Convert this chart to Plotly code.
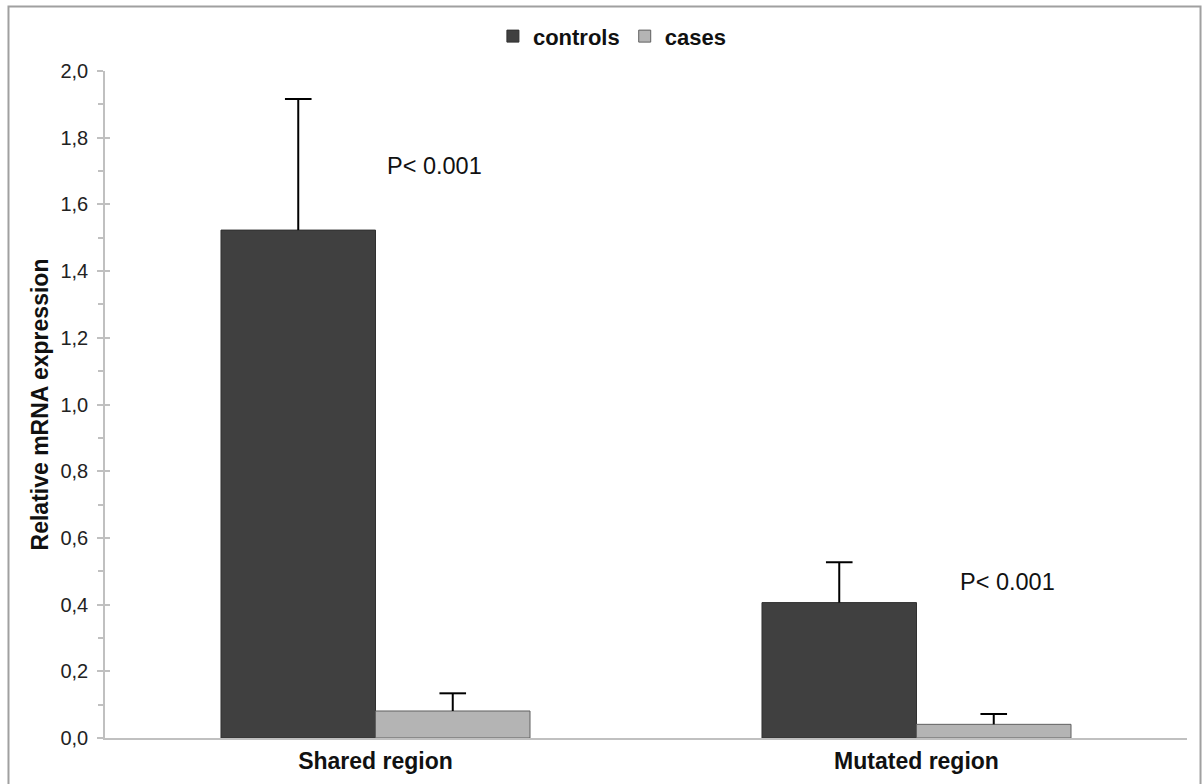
import plotly.graph_objects as go

categories = ["Shared region", "Mutated region"]
controls = [1.523, 0.406]
controls_err = [0.393, 0.121]
cases = [0.081, 0.041]
cases_err = [0.053, 0.031]
p_labels = ["P< 0.001", "P< 0.001"]
p_x = [0.023, 1.083]
p_y = [1.715, 0.469]

FONT = "Liberation Sans, Arial, sans-serif"
BAR_W = 0.2856
idx = list(range(len(categories)))
x_ctrl = [i - BAR_W / 2 for i in idx]
x_case = [i + BAR_W / 2 for i in idx]

fig = go.Figure()
for name, xs, ys, errs, fill, edge in [
    ("controls", x_ctrl, controls, controls_err, "#404040", "#303030"),
    ("cases", x_case, cases, cases_err, "#b4b4b4", "#606060"),
]:
    fig.add_trace(go.Bar(
        name=name, x=xs, y=ys, width=BAR_W,
        marker=dict(color=fill, line=dict(color=edge, width=1)),
        error_y=dict(type="data", array=errs, arrayminus=[0] * len(errs), symmetric=False,
                     color="black", thickness=2, width=0),
    ))
    fig.add_trace(go.Scatter(
        x=xs, y=[v + e for v, e in zip(ys, errs)], mode="markers",
        marker=dict(symbol="line-ew", size=19, line=dict(color="black", width=2)),
        showlegend=False, hoverinfo="skip",
    ))

# overlay axis for inside part of major ticks
fig.add_trace(go.Scatter(x=idx, y=[0, 0], yaxis="y2", mode="markers",
                         marker=dict(opacity=0), showlegend=False, hoverinfo="skip"))

for xx, lab, yy in zip(p_x, p_labels, p_y):
    fig.add_annotation(x=xx, y=yy, text=lab, showarrow=False, xanchor="left", xshift=-3,
                       font=dict(family=FONT, size=23.5, color="#111"))

fig.update_layout(
    width=1202, height=784,
    margin=dict(l=105, r=15, t=71, b=46, autoexpand=False),
    paper_bgcolor="white", plot_bgcolor="white",
    barmode="overlay",
    separators=",.",
    font=dict(family=FONT, color="#222"),
    showlegend=True,
    legend=dict(orientation="h", x=0.4685, xanchor="center", y=1.052, yanchor="middle",
                font=dict(family=FONT, size=22, color="#111", weight="bold"),
                itemwidth=30, traceorder="normal", bgcolor="rgba(0,0,0,0)"),
    xaxis=dict(range=[-0.5, 1.5], tickvals=idx, ticktext=categories, automargin=False,
               showgrid=False, showline=True, linecolor="#c0c0c0", linewidth=1.5,
               ticks="", tickfont=dict(family=FONT, size=23, color="#111", weight="bold"),
               ticklabelstandoff=2,
               zeroline=False),
    yaxis=dict(range=[0, 2.0], dtick=0.2, tickformat=".1f", showgrid=False, automargin=False,
               showline=True, linecolor="#c0c0c0", linewidth=1.5,
               ticks="outside", ticklen=6, tickcolor="#c0c0c0", tickwidth=1.5,
               minor=dict(ticks="outside", ticklen=5, dtick=0.1, tickcolor="#c0c0c0", tickwidth=1.5),
               tickfont=dict(family=FONT, size=20, color="#222"),
               ticklabelstandoff=5,
               zeroline=False,
               title=dict(text="Relative mRNA expression", standoff=5,
                          font=dict(family=FONT, size=23, color="#111", weight="bold"))),
    yaxis2=dict(range=[0, 2.0], dtick=0.2, overlaying="y", anchor="x", side="left",
                showgrid=False, showline=False, showticklabels=False, zeroline=False,
                ticks="inside", ticklen=5, tickcolor="#c0c0c0", tickwidth=1.5),
    shapes=[dict(type="rect", xref="paper", yref="paper",
                 x0=-0.0892, x1=1.0125, y0=-0.2, y1=1.0967,
                 line=dict(color="#a0a0a0", width=2), fillcolor="rgba(0,0,0,0)", layer="below")],
)

fig.write_html("out.html")
